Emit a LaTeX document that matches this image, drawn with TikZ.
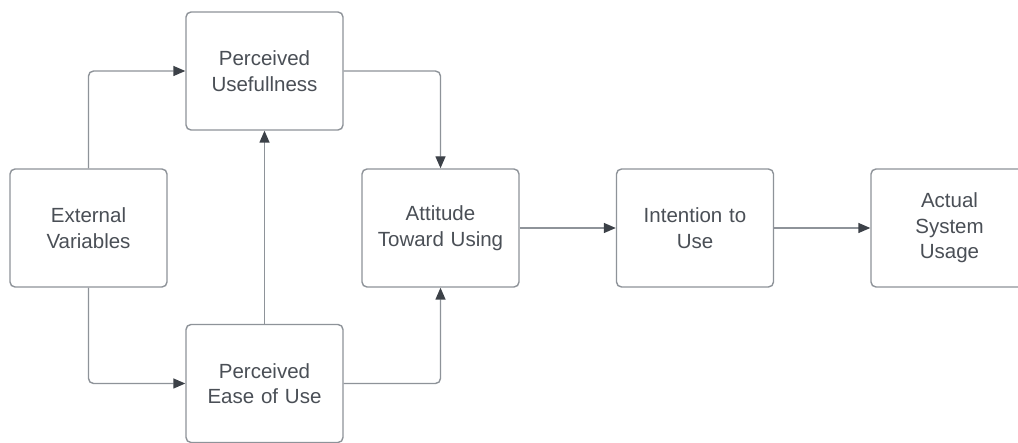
\documentclass[tikz,border=0pt]{standalone}
\usepackage{fontspec}
\setmainfont{Liberation Sans}
\usetikzlibrary{arrows.meta}
\definecolor{boxline}{HTML}{8E9399}
\definecolor{txt}{HTML}{4A4F56}
\definecolor{head}{HTML}{3C4148}
\begin{document}
\begin{tikzpicture}[x=1pt,y=-1pt,
  box/.style={draw=boxline, line width=1.4pt, rounded corners=5pt, fill=white,
    minimum width=157pt, minimum height=118pt, text width=150pt, align=center,
    font=\fontsize{20.5}{25.5}\selectfont, text=txt, inner sep=0pt},
  conn/.style={draw=boxline, line width=1.4pt, rounded corners=5pt,
    -{Triangle[length=12pt,width=10pt,color=head,fill=head]}}]
\clip (0,0) rectangle (1018,443);
\fill[white] (0,0) rectangle (1018,443);
\node[box] (ext) at (88.5,228) {External\\Variables};
\node[box] (pu) at (264.5,71) {Perceived\\Usefullness};
\node[box] (peu) at (264.5,383.5) {Perceived\\Ease of Use};
\node[box] (att) at (440.5,228) {Attitude\\Toward Using};
\node[box] (int) at (695,228) {Intention to\\Use};
\node[box] (act) at (949.5,228) {Actual\\System\\Usage};
\draw[conn] (ext.north) |- (pu.west);
\draw[conn] (ext.south) |- (peu.west);
\draw[conn] (peu.north) -- (pu.south);
\draw[conn] (pu.east) -| (att.north);
\draw[conn] (peu.east) -| (att.south);
\draw[conn] (att.east) -- (int.west);
\draw[conn] (int.east) -- (act.west);
\end{tikzpicture}
\end{document}
